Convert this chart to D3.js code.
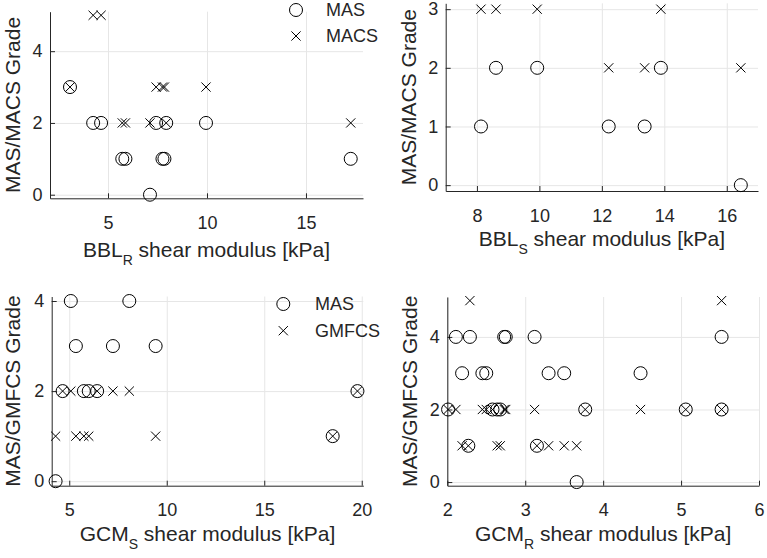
<!DOCTYPE html>
<html>
<head>
<meta charset="utf-8">
<script src="https://cdn.jsdelivr.net/npm/d3@7"></script>
<style>
  html, body { margin: 0; padding: 0; background: #fff; }
  svg { display: block; font-family: "Liberation Sans", Arial, Helvetica, sans-serif; }
</style>
</head>
<body>
<svg id="chart" width="767" height="558"></svg>
<script>
// ---------- DATA ----------
// Panel A: BBL_R shear modulus vs MAS / MACS
const bblR_kPa  = [3.08, 4.25, 4.65, 5.72, 5.88, 7.12, 7.43, 7.75, 7.85, 7.94, 9.95, 17.26];
const bblR_MAS  = [3,    2,    2,    1,    1,    0,    2,    1,    1,    2,    2,    1];
const bblR_MACS = [3,    5,    5,    2,    2,    2,    3,    3,    3,    2,    3,    2];

// Panel B: BBL_S shear modulus vs MAS / MACS
const bblS_kPa  = [8.13, 8.61, 9.93, 12.22, 13.37, 13.89, 16.45];
const bblS_MAS  = [1,    2,    2,    1,     1,     2,     0];
const bblS_MACS = [3,    3,    3,    2,     2,     3,     2];

// Panel C: GCM_S shear modulus vs MAS / GMFCS
const gcmS_kPa   = [4.30, 4.66, 5.08, 5.34, 5.75, 6.00, 6.43, 7.24, 8.08, 9.43, 18.51, 19.78];
const gcmS_MAS   = [0,    2,    4,    3,    2,    2,    2,    3,    4,    3,    1,     2];
const gcmS_GMFCS = [1,    2,    2,    1,    1,    1,    2,    2,    2,    1,    1,     2];

// Panel D: GCM_R shear modulus vs MAS / GMFCS
const gcmR_kPa   = [2.01, 2.11, 2.19, 2.27, 2.29, 2.45, 2.50, 2.58, 2.64, 2.68, 2.73, 2.75,
                    3.12, 3.15, 3.30, 3.50, 3.66, 3.77, 4.48, 5.06, 5.52, 5.52];
const gcmR_MAS   = [2, 4, 3, 1, 4, 3, 3, 2, 2, 2, 4, 4, 4, 1, 3, 3, 0, 2, 3, 2, 4, 2];
const gcmR_GMFCS = [2, 2, 1, 1, 5, 2, 2, 2, 1, 1, 2, 2, 2, 1, 1, 1, 1, 2, 2, 2, 5, 2];

// Tick values
const ticksA_x = [5, 10, 15],          ticksA_y = [0, 2, 4];
const ticksB_x = [8, 10, 12, 14, 16],  ticksB_y = [0, 1, 2, 3];
const ticksC_x = [5, 10, 15, 20],      ticksC_y = [0, 2, 4];
const ticksD_x = [2, 3, 4, 5, 6],      ticksD_y = [0, 2, 4];

// ---------- DRAWING ----------
const svg = d3.select("#chart");
const INK = "#262626";
const GRID = "#e6e6e6";
const R = 6.5;      // circle radius
const XS = 4.6;     // half size of x marker

function drawCircle(g, cx, cy) {
  g.append("circle").attr("cx", cx).attr("cy", cy).attr("r", R)
    .attr("fill", "none").attr("stroke", "#000").attr("stroke-width", 1);
}
function drawX(g, cx, cy) {
  g.append("path")
    .attr("d", `M${cx - XS},${cy - XS}L${cx + XS},${cy + XS}M${cx - XS},${cy + XS}L${cx + XS},${cy - XS}`)
    .attr("fill", "none").attr("stroke", "#000").attr("stroke-width", 1);
}

function panel(cfg) {
  const x = d3.scaleLinear().domain(cfg.xDomain).range(cfg.xRange);
  const y = d3.scaleLinear().domain(cfg.yDomain).range(cfg.yRange);
  const g = svg.append("g");
  const bottom = cfg.yRange[0], top = cfg.yRange[1];
  const left = cfg.xRange[0], right = cfg.xRange[1];

  // grid
  g.append("g").attr("transform", `translate(0,${bottom})`)
    .call(d3.axisBottom(x).tickValues(cfg.xTicks).tickSize(-(bottom - top)).tickFormat(""))
    .call(a => a.select(".domain").remove())
    .call(a => a.selectAll("line").attr("stroke", GRID));
  g.append("g").attr("transform", `translate(${left},0)`)
    .call(d3.axisLeft(y).tickValues(cfg.yTicks).tickSize(-(right - left)).tickFormat(""))
    .call(a => a.select(".domain").remove())
    .call(a => a.selectAll("line").attr("stroke", GRID));

  // axes
  const xa = g.append("g").attr("transform", `translate(0,${bottom})`)
    .call(d3.axisBottom(x).tickValues(cfg.xTicks).tickSizeInner(-5).tickSizeOuter(0)
      .tickPadding(18).tickFormat(d3.format("d")));
  const ya = g.append("g").attr("transform", `translate(${left},0)`)
    .call(d3.axisLeft(y).tickValues(cfg.yTicks).tickSizeInner(-5).tickSizeOuter(0)
      .tickPadding(7.5).tickFormat(d3.format("d")));
  [xa, ya].forEach(a => {
    a.attr("font-family", null).attr("font-size", null);
    a.select(".domain").attr("stroke", INK);
    a.selectAll(".tick line").attr("stroke", INK);
    a.selectAll("text").attr("fill", INK).style("font-size", "18px");
  });

  // data
  const dg = g.append("g");
  cfg.xs.forEach((v, i) => drawCircle(dg, x(v), y(cfg.s1[i])));
  cfg.xs.forEach((v, i) => drawX(dg, x(v), y(cfg.s2[i])));

  // x label with subscript
  const xl = g.append("text").attr("x", (left + right) / 2).attr("y", bottom + cfg.xLabelOff)
    .attr("text-anchor", "middle").attr("fill", INK).style("font-size", "21px");
  xl.append("tspan").text(cfg.xLabel[0]);
  xl.append("tspan").text(cfg.xLabel[1]).attr("dy", 8).style("font-size", "14px");
  xl.append("tspan").text(cfg.xLabel[2]).attr("dy", -8);

  // y label
  g.append("text")
    .attr("transform", `translate(${cfg.yLabelX},${(top + bottom) / 2}) rotate(-90)`)
    .attr("text-anchor", "middle").attr("fill", INK).style("font-size", "21px")
    .text(cfg.yLabel);

  // legend
  if (cfg.legend) {
    const L = cfg.legend;
    drawCircle(g, L.x, L.y1);
    drawX(g, L.x, L.y2);
    g.append("text").attr("x", L.tx).attr("y", L.y1).attr("dy", "0.35em")
      .attr("fill", INK).style("font-size", "18px").text(L.names[0]);
    g.append("text").attr("x", L.tx).attr("y", L.y2).attr("dy", "0.35em")
      .attr("fill", INK).style("font-size", "18px").text(L.names[1]);
  }
}

panel({
  xDomain: [2.07, 17.88], xRange: [50, 363],
  yDomain: [-0.1, 5.1], yRange: [198.3, 11.7],
  xTicks: ticksA_x, yTicks: ticksA_y,
  xs: bblR_kPa, s1: bblR_MAS, s2: bblR_MACS,
  xLabel: ["BBL", "R", " shear modulus [kPa]"], xLabelOff: 59,
  yLabel: "MAS/MACS Grade", yLabelX: 19.5,
  legend: { x: 296, y1: 10, y2: 36, tx: 326, names: ["MAS", "MACS"] }
});

panel({
  xDomain: [7, 17], xRange: [445.7, 758],
  yDomain: [-0.1, 3.1], yRange: [191, 3.3],
  xTicks: ticksB_x, yTicks: ticksB_y,
  xs: bblS_kPa, s1: bblS_MAS, s2: bblS_MACS,
  xLabel: ["BBL", "S", " shear modulus [kPa]"], xLabelOff: 55,
  yLabel: "MAS/MACS Grade", yLabelX: 416
});

panel({
  xDomain: [4.1, 20.08], xRange: [51.7, 363.3],
  yDomain: [-0.1, 4.1], yRange: [485.7, 296.5],
  xTicks: ticksC_x, yTicks: ticksC_y,
  xs: gcmS_kPa, s1: gcmS_MAS, s2: gcmS_GMFCS,
  xLabel: ["GCM", "S", " shear modulus [kPa]"], xLabelOff: 55,
  yLabel: "MAS/GMFCS Grade", yLabelX: 19.5,
  legend: { x: 283.3, y1: 304, y2: 330.7, tx: 315, names: ["MAS", "GMFCS"] }
});

panel({
  xDomain: [2, 6], xRange: [447.3, 759],
  yDomain: [-0.1, 5.1], yRange: [485.7, 297],
  xTicks: ticksD_x, yTicks: ticksD_y,
  xs: gcmR_kPa, s1: gcmR_MAS, s2: gcmR_GMFCS,
  xLabel: ["GCM", "R", " shear modulus [kPa]"], xLabelOff: 55,
  yLabel: "MAS/GMFCS Grade", yLabelX: 416.5
});
</script>
</body>
</html>
